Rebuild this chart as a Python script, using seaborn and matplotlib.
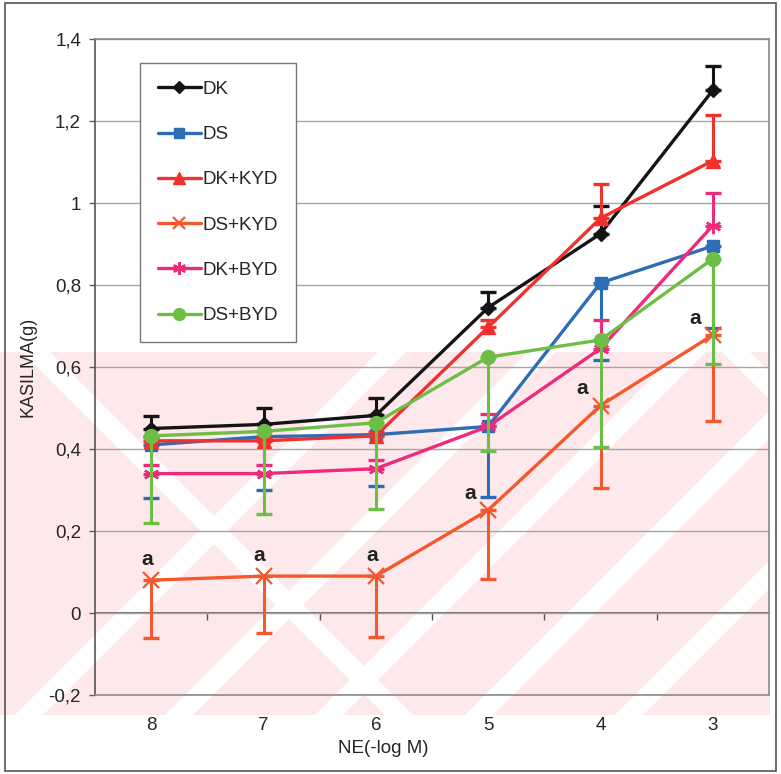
import numpy as np
import pandas as pd
import seaborn as sns
import matplotlib.pyplot as plt
from matplotlib.patches import Rectangle, Polygon
from matplotlib.transforms import Affine2D
from matplotlib.lines import Line2D

# concentrations on the x axis (-log M)
ne_levels = ["8", "7", "6", "5", "4", "3"]
series_names = ["DK", "DS", "DK+KYD", "DS+KYD", "DK+BYD", "DS+BYD"]

dk = [0.450, 0.460, 0.482, 0.745, 0.925, 1.275]
dk_err_up = [0.030, 0.040, 0.042, 0.038, 0.068, 0.060]

ds = [0.410, 0.430, 0.435, 0.455, 0.805, 0.895]
ds_err_down = [0.130, 0.130, 0.125, 0.171, 0.188, 0.200]

dk_kyd = [0.420, 0.420, 0.432, 0.697, 0.963, 1.103]
dk_kyd_err_up = [0.010, 0.010, 0.010, 0.018, 0.083, 0.112]

ds_kyd = [0.080, 0.090, 0.090, 0.251, 0.506, 0.678]
ds_kyd_err_down = [0.140, 0.138, 0.149, 0.168, 0.200, 0.209]

dk_byd = [0.340, 0.340, 0.352, 0.455, 0.645, 0.945]
dk_byd_err_up = [0.020, 0.020, 0.020, 0.030, 0.070, 0.080]

ds_byd = [0.432, 0.443, 0.464, 0.624, 0.666, 0.864]
ds_byd_err_down = [0.213, 0.202, 0.210, 0.229, 0.260, 0.257]

# "a" marks sit on the DS+KYD points
a_flags = [True, True, True, True, True, True]

yticks = [-0.2, 0.0, 0.2, 0.4, 0.6, 0.8, 1.0, 1.2, 1.4]

sns.set_style("white")
plt.rcParams["font.family"] = ["Liberation Sans", "DejaVu Sans"]

W, H = 781, 774
fig = plt.figure(figsize=(W / 100, H / 100), dpi=100)
fig.patch.set_facecolor("white")
px = Affine2D().scale(1 / W, -1 / H).translate(0, 1) + fig.transFigure

# faint scanned watermark band behind the plot
band = Rectangle((0, 352), 770, 363, transform=px, facecolor="#fde8eb",
                 edgecolor="none", zorder=-10)
fig.patches.append(band)
stripe_w = 28
for c in [730, 880, 1030, 1180, 1330]:
    poly = Polygon([(c - 715, 715), (c - 715 + stripe_w, 715), (c - 352 + stripe_w, 352), (c - 352, 352)],
                   closed=True, transform=px, facecolor="white", edgecolor="none", zorder=-9)
    poly.set_clip_path(band)
    fig.patches.append(poly)
for c in [330, -370]:
    poly = Polygon([(352 - c, 352), (352 - c + stripe_w, 352), (715 - c + stripe_w, 715), (715 - c, 715)],
                   closed=True, transform=px, facecolor="white", edgecolor="none", zorder=-9)
    poly.set_clip_path(band)
    fig.patches.append(poly)

# outer frame of the scanned figure
fig.patches.append(Rectangle((5, 3), 771, 768, transform=px, facecolor="none",
                             edgecolor="#555555", linewidth=1.2, zorder=5))

ax = fig.add_axes([95 / W, 1 - 695 / H, (769 - 95) / W, (695 - 39) / H])
ax.set_facecolor("none")

pos = np.arange(len(ne_levels))
styles = [
    ("DK", dk, dk_err_up, "up", "#141414", "D", 7.5, 1.0),
    ("DS", ds, ds_err_down, "down", "#2d6db5", "s", 8.5, 1.0),
    ("DK+KYD", dk_kyd, dk_kyd_err_up, "up", "#f2302e", "^", 10, 1.0),
    ("DS+KYD", ds_kyd, ds_kyd_err_down, "down", "#f4582c", "x", 11, 1.6),
    ("DK+BYD", dk_byd, dk_byd_err_up, "up", "#ee2a7b", (6, 2, 0), 11, 1.6),
    ("DS+BYD", ds_byd, ds_byd_err_down, "down", "#6dbe45", "o", 10, 1.0),
]

handles = []
for i, (name, vals, err, side, color, marker, ms, mew) in enumerate(styles):
    vals = np.array(vals)
    err = np.array(err)
    zero = np.zeros_like(err)
    yerr = [zero, err] if side == "up" else [err, zero]
    ax.errorbar(pos, vals, yerr=yerr, fmt="none", ecolor=color, elinewidth=2.2,
                capsize=6, capthick=2.4, zorder=2 + i)
    sns.lineplot(x=pos, y=vals, ax=ax, color=color, linewidth=2.4, marker=marker,
                 markersize=ms, markeredgecolor=color, markerfacecolor=color,
                 markeredgewidth=mew, zorder=2.5 + i, legend=False)
    handles.append(Line2D([], [], color=color, linewidth=2.4, marker=marker,
                          markersize=ms * 0.85, markeredgecolor=color,
                          markerfacecolor=color, markeredgewidth=mew, label=name))

# "a" significance marks
for i, (x, v) in enumerate(zip(pos, ds_kyd)):
    if not a_flags[i]:
        continue
    off = (-4, 21) if i < 3 else (-18, 17)
    ax.annotate("a", (x, v), xytext=off, textcoords="offset pixels", ha="center",
                va="center", fontsize=15, fontweight="bold", color="#222222", zorder=20)

ax.set_xlim(-0.5, len(ne_levels) - 0.5)
ax.set_ylim(-0.2, 1.4)
ax.set_xticks(pos)
ax.set_xticklabels(ne_levels, fontsize=13.5)
ax.tick_params(axis="x", length=0, pad=16)


def comma_label(v):
    s = f"{v:.1f}".replace(".", ",")
    if s.endswith(",0"):
        s = s[:-2]
    return "0" if s == "-0" else s


ax.set_yticks(yticks)
ax.set_yticklabels([comma_label(v) for v in yticks], fontsize=13.5)
ax.tick_params(axis="y", length=4, width=1, color="#606060", direction="out", pad=6, left=True)
ax.yaxis.grid(True, color="#a6a6a6", linewidth=1)
ax.set_axisbelow(True)
for side in ["top", "right", "bottom"]:
    ax.spines[side].set_color("#8a8a8a")
    ax.spines[side].set_linewidth(1.2)
ax.spines["left"].set_color("#555555")
ax.spines["left"].set_linewidth(1.2)

# category axis crossing at zero with ticks between categories
sec = ax.secondary_xaxis(0.2 / 1.6)
sec.set_xticks(pos[:-1] + 0.5)
sec.set_xticklabels([""] * (len(pos) - 1))
sec.tick_params(length=5, width=1, color="#555555", direction="out")
sec.spines["bottom"].set_color("#555555")
sec.spines["bottom"].set_linewidth(1.2)

ax.set_xlabel("NE(-log M)", fontsize=13.5)
ax.xaxis.set_label_coords((383 - 95) / 674, (695 - 740) / 656)
ax.set_ylabel("KASILMA(g)", fontsize=13)
ax.yaxis.set_label_coords((37 - 95) / 674, 0.5)

leg = ax.legend(handles=handles, loc="upper left", bbox_to_anchor=(140 / W, 1 - 63 / H),
                bbox_transform=fig.transFigure, fontsize=13.5, frameon=True, fancybox=False,
                borderaxespad=0, borderpad=0.95, labelspacing=1.5, handlelength=2.3,
                handletextpad=0.1)
leg.get_frame().set_edgecolor("#777777")
leg.get_frame().set_linewidth(1.0)
leg.get_frame().set_facecolor("white")
leg.get_frame().set_alpha(1)

fig.savefig("out.png", dpi=100)
